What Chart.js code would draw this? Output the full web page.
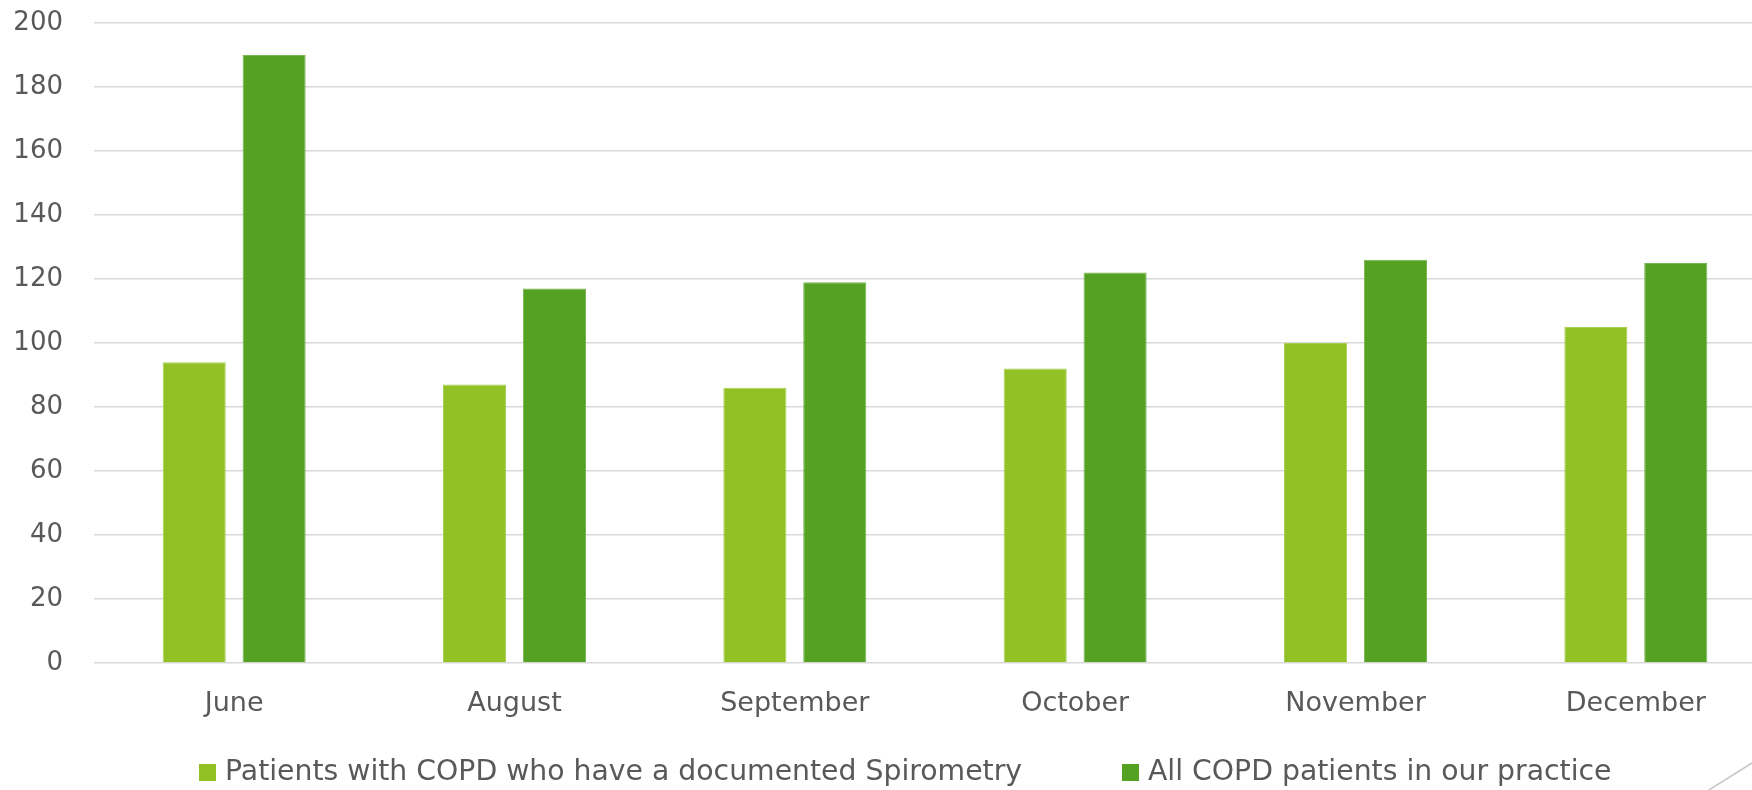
<!DOCTYPE html>
<html>
<head>
<meta charset="utf-8">
<script src="https://cdn.jsdelivr.net/npm/chart.js@4.4.0/dist/chart.umd.min.js"></script>
<style>
    html, body {
        margin: 0;
        padding: 0;
        background: #ffffff;
        overflow: hidden;
    }
    #wrap {
        position: relative;
        width: 1752px;
        height: 790px;
        overflow: hidden;
    }
    #chart {
        position: absolute;
        left: 0;
        top: 0;
    }
    #legend {
        position: absolute;
        left: 199px;
        top: 757px;
        display: flex;
        align-items: center;
        font-family: 'DejaVu Sans', sans-serif;
        font-size: 28.3px;
        line-height: 28px;
        color: #595959;
        white-space: nowrap;
    }
    .legend-item {
        display: flex;
        align-items: center;
        margin-right: 100px;
    }
    .legend-box {
        width: 17px;
        height: 17px;
        margin-right: 9px;
        margin-top: 2px;
    }
    #corner {
        position: absolute;
        left: 0;
        top: 0;
    }
</style>
</head>
<body>
<div id="wrap">
    <canvas id="chart" width="1776" height="790"></canvas>
    <div id="legend"></div>
    <svg id="corner" width="1752" height="790">
        <line x1="1752" y1="763" x2="1709" y2="790" stroke="#c8c8c8" stroke-width="1.5"/>
    </svg>
</div>
<script>
// Chart data
const months = ['June', 'August', 'September', 'October', 'November', 'December'];
const spirometryCounts = [94, 87, 86, 92, 100, 105];
const allCopdCounts = [190, 117, 119, 122, 126, 125];
const seriesNames = ['Patients with COPD who have a documented Spirometry', 'All COPD patients in our practice'];
const yTicks = [0, 20, 40, 60, 80, 100, 120, 140, 160, 180, 200];

const textColor = '#595959';
const gridColor = '#d9d9d9';

// Build the legend as html below the plot
const htmlLegend = {
    id: 'htmlLegend',
    afterUpdate(chart) {
        const box = document.getElementById('legend');
        box.innerHTML = '';
        chart.data.datasets.forEach(ds => {
            const item = document.createElement('div');
            item.className = 'legend-item';
            const swatch = document.createElement('span');
            swatch.className = 'legend-box';
            swatch.style.background = ds.backgroundColor;
            const label = document.createElement('span');
            label.textContent = ds.label;
            item.appendChild(swatch);
            item.appendChild(label);
            box.appendChild(item);
        });
    }
};

const ctx = document.getElementById('chart').getContext('2d');
new Chart(ctx, {
    type: 'bar',
    data: {
        labels: months,
        datasets: [{
            label: seriesNames[0],
            data: spirometryCounts,
            backgroundColor: '#92c126',
            borderColor: '#a8cf55',
            borderWidth: 1,
            categoryPercentage: 0.57,
            barPercentage: 0.79
        }, {
            label: seriesNames[1],
            data: allCopdCounts,
            backgroundColor: '#55a122',
            borderColor: '#78b552',
            borderWidth: 1,
            categoryPercentage: 0.57,
            barPercentage: 0.79
        }]
    },
    options: {
        responsive: false,
        animation: false,
        layout: {
            padding: { top: 23, left: 0, right: 0, bottom: 0 }
        },
        plugins: {
            legend: { display: false },
            tooltip: { enabled: false }
        },
        scales: {
            x: {
                offset: true,
                grid: { display: false },
                border: { display: false },
                ticks: {
                    color: textColor,
                    padding: 17,
                    font: { family: 'DejaVu Sans', size: 27 }
                },
                afterFit(scale) {
                    scale.height = 127;
                }
            },
            y: {
                min: 0,
                max: 200,
                border: { display: false },
                grid: {
                    color: gridColor,
                    lineWidth: 1.5,
                    drawTicks: false
                },
                afterBuildTicks(scale) {
                    scale.ticks = yTicks.map(v => ({ value: v }));
                },
                ticks: {
                    color: textColor,
                    padding: 31,
                    font: { family: 'DejaVu Sans', size: 26 }
                },
                afterFit(scale) {
                    // keep the plot top at the 200 line, label padding is not needed there
                    scale.width = 94;
                    scale.paddingTop = 0;
                    scale.paddingBottom = 0;
                }
            }
        }
    },
    plugins: [htmlLegend]
});
</script>
</body>
</html>
